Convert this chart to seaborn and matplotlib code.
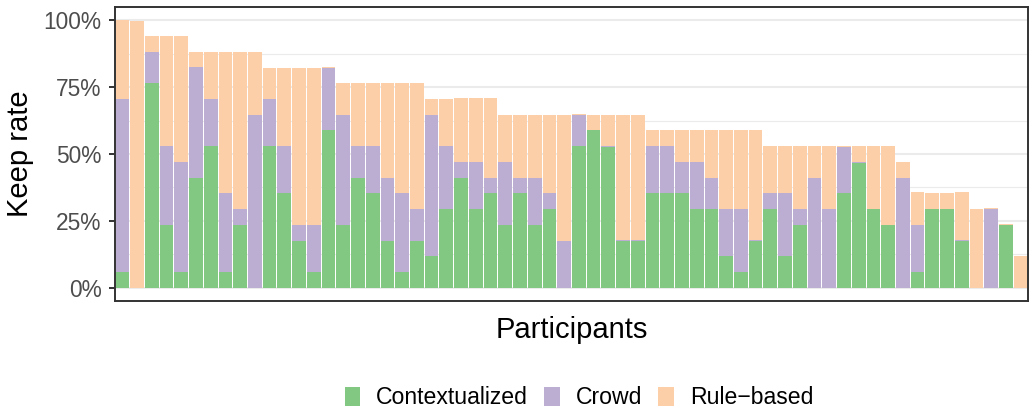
import numpy as np
import pandas as pd
import matplotlib
matplotlib.use("Agg")
import matplotlib.pyplot as plt
from matplotlib.patches import Patch
import seaborn as sns

# keep rate per participant (%), sorted by total
contextualized = [5.9, 0, 76.5, 23.5, 5.9, 41.2, 52.9, 5.9, 23.5, 0,
                  52.9, 35.3, 17.6, 5.9, 58.8, 23.5, 41.2, 35.3, 17.6, 5.9,
                  17.6, 11.8, 29.4, 41.2, 29.4, 35.3, 23.5, 35.3, 23.5, 29.4,
                  0, 52.9, 58.8, 52.7, 17.6, 17.6, 35.3, 35.3, 35.3, 29.4,
                  29.4, 11.8, 5.9, 17.6, 29.4, 11.8, 23.5, 0, 0, 35.3,
                  46.7, 29.4, 23.5, 0, 5.9, 29.4, 29.4, 17.6, 0, 0,
                  23.4, 0]
crowd = [64.7, 0, 11.8, 29.4, 41.2, 41.2, 17.6, 29.4, 5.9, 64.7,
         17.6, 17.6, 5.9, 17.6, 23.3, 41.2, 11.8, 17.6, 23.5, 29.4,
         11.8, 52.9, 23.5, 5.9, 17.6, 5.9, 23.5, 5.9, 17.6, 5.9,
         17.6, 11.6, 0, 0.4, 0.4, 0.4, 17.6, 17.6, 11.8, 17.6,
         11.8, 17.6, 23.5, 0.4, 5.9, 23.5, 5.9, 41.2, 29.4, 17.3,
         0.4, 0, 0, 41.2, 17.6, 0, 0, 0.4, 0, 29.3,
         0, 0]
rule_based = [29.4, 99.6, 5.9, 41.2, 47.1, 5.9, 17.6, 52.9, 58.8, 23.5,
              11.8, 29.4, 58.8, 58.8, 0.3, 11.8, 23.5, 23.5, 35.3, 41.2,
              47.1, 5.9, 17.6, 23.8, 23.9, 29.7, 17.6, 23.5, 23.5, 29.4,
              47.1, 0.4, 5.9, 11.6, 46.7, 46.7, 5.9, 5.9, 11.8, 11.8,
              17.6, 29.4, 29.4, 40.8, 17.6, 17.6, 23.5, 11.8, 23.5, 0.4,
              5.9, 23.5, 29.4, 5.9, 12.2, 5.9, 5.9, 17.7, 29.4, 0.4,
              0.4, 11.8]
participants = [f"P{i + 1:02d}" for i in range(len(crowd))]

colors = {"Contextualized": "#82C882", "Crowd": "#BCADD3", "Rule\u2212based": "#FCCFA8"}

df = pd.DataFrame({
    "participant": participants,
    "Contextualized": contextualized,
    "Crowd": crowd,
    "Rule\u2212based": rule_based,
})
# cumulative heights for layered stacking
df["top_crowd"] = df["Contextualized"] + df["Crowd"]
df["top_rule"] = df["top_crowd"] + df["Rule\u2212based"]

sns.set_style("white")
plt.rcParams["font.family"] = ["Liberation Sans", "DejaVu Sans"]
plt.rcParams["text.color"] = "black"

fig = plt.figure(figsize=(10.3, 4.12), dpi=100)
ax = fig.add_axes([115 / 1030, 1 - 301 / 412, 913 / 1030, 294 / 412])

for col, key in [("top_rule", "Rule\u2212based"), ("top_crowd", "Crowd"), ("Contextualized", "Contextualized")]:
    sns.barplot(data=df, x="participant", y=col, color=colors[key], width=0.93,
                errorbar=None, saturation=1, linewidth=0, ax=ax, zorder=3)

ax.set_xlim(-0.5, len(participants) - 0.5)
ax.set_ylim(-5, 105)
ax.set_yticks([0, 25, 50, 75, 100])
ax.set_yticklabels(["0%", "25%", "50%", "75%", "100%"])
ax.set_yticks([12.5, 37.5, 62.5, 87.5], minor=True)
ax.set_xticks([])
ax.grid(False)
ax.yaxis.grid(True, which="major", color="#EBEBEB", linewidth=1.5, zorder=0)
ax.yaxis.grid(True, which="minor", color="#EBEBEB", linewidth=0.8, zorder=0)
ax.set_axisbelow(True)
ax.tick_params(axis="y", which="major", length=4.3, width=1.4, color="#333333",
               labelsize=16.4, labelcolor="#4D4D4D", pad=5.5, left=True)
ax.tick_params(axis="y", which="minor", length=0)
for s in ax.spines.values():
    s.set_color("#333333")
    s.set_linewidth(1.4)
ax.set_xlabel("")
ax.set_ylabel("")

fig.text(20 / 1030, 1 - 154 / 412, "Keep rate", rotation=90, ha="center", va="center",
         fontsize=21, color="black")
fig.text(571.5 / 1030, 1 - 330 / 412, "Participants", ha="center", va="center",
         fontsize=21, color="black")

handles = [Patch(facecolor=c, edgecolor="none", label=k) for k, c in colors.items()]
fig.legend(handles=handles, loc="center", bbox_to_anchor=(579 / 1030, 14 / 412), ncol=3,
           frameon=False, fontsize=16.6, handlelength=0.69, handleheight=0.87,
           handletextpad=0.69, columnspacing=0.69, labelcolor="black")

fig.savefig("out.png", dpi=100)
